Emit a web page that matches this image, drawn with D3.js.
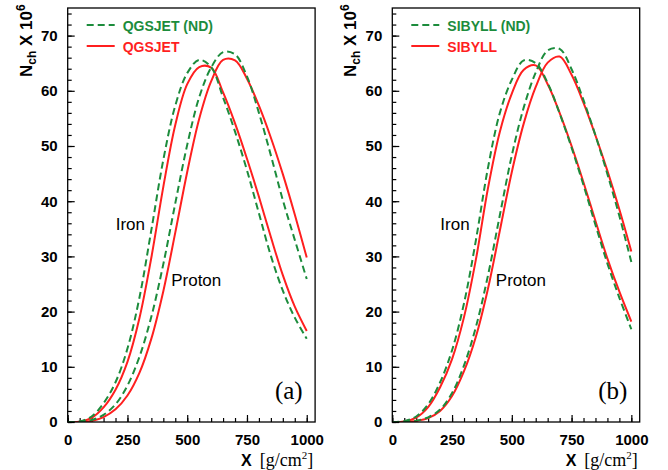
<!DOCTYPE html>
<html>
<head>
<meta charset="utf-8">
<script src="https://cdn.jsdelivr.net/npm/d3@7/dist/d3.min.js"></script>
<style>
  html, body { margin: 0; padding: 0; background: #fff; }
  svg { display: block; }
</style>
</head>
<body>
<svg id="chart" width="668" height="470"></svg>
<script>
// slant depth X [g/cm2] shared by every profile
const depth = [0, 50, 100, 150, 200, 250, 300, 350, 400, 450, 500,
  550, 600, 650, 700, 750, 800, 850, 900, 950, 1000];

// panel (a): QGSJET, values in units of 10^6 charged particles
const ironQGSJET = [0, 0.05, 0.75, 2.65, 5.85, 10.9, 18.8, 29.8, 42.6, 53.8, 61.2,
  64.3, 64.2, 59.7, 54.1, 47.7, 40.8, 33.5, 26.6, 20.9, 16.5];
const ironQGSJETnd = [0, 0.1, 1.0, 3.4, 7.2, 13.3, 22.5, 34.8, 47.5, 57.3, 63.2,
  65.6, 64.3, 58.8, 52.6, 45.6, 37.8, 30.1, 23.8, 18.9, 15.1];
const protonQGSJET = [0, 0.02, 0.2, 0.9, 2.3, 4.8, 8.9, 15.1, 23.7, 34.3, 45.3,
  54.9, 61.7, 65.6, 65.5, 62.2, 57.3, 51.5, 44.9, 37.6, 29.8];
const protonQGSJETnd = [0, 0.05, 0.35, 1.3, 3.2, 6.6, 11.8, 19.1, 28.6, 39.6, 50.2,
  58.8, 64.2, 67.0, 66.6, 62.6, 56.0, 48.3, 40.2, 33.0, 25.9];

// panel (b): SIBYLL
const ironSIBYLL = [0, 0.1, 0.8, 2.7, 6.3, 11.4, 19.0, 29.5, 42.3, 52.6, 59.5,
  63.8, 64.6, 61.2, 56.0, 50.0, 43.4, 36.4, 29.6, 23.6, 18.2];
const ironSIBYLLnd = [0, 0.15, 1.0, 3.2, 7.2, 13.0, 21.5, 33.0, 46.0, 56.0, 62.0,
  65.5, 65.0, 61.4, 55.9, 49.7, 42.9, 35.7, 28.7, 22.5, 16.8];
const protonSIBYLL = [0, 0.02, 0.2, 0.7, 2.0, 4.7, 9.2, 15.5, 24.1, 34.7, 45.3,
  54.1, 60.7, 65.1, 66.2, 62.9, 57.8, 51.9, 45.5, 38.5, 30.9];
const protonSIBYLLnd = [0, 0.03, 0.25, 0.85, 2.25, 5.25, 10.25, 17.25, 26.5, 37.5, 48.3,
  57.0, 63.3, 67.3, 67.6, 63.9, 58.3, 51.9, 44.9, 37.3, 29.0];

const xMajorTicks = [0, 250, 500, 750, 1000];
const yMajorTicks = [0, 10, 20, 30, 40, 50, 60, 70];

const RED = "#ff1f1f";
const GREEN = "#1c8c3c";
const SANS = "'Liberation Sans', Arial, Helvetica, sans-serif";
const SERIF = "'Liberation Serif', 'Times New Roman', serif";

const svg = d3.select("#chart");
const plotTop = 8, plotBottom = 422, plotW = 247.4;

const panels = [
  { left: 67.7, tag: "(a)", model: "QGSJET",
    nd: [ironQGSJETnd, protonQGSJETnd], std: [ironQGSJET, protonQGSJET] },
  { left: 392.3, tag: "(b)", model: "SIBYLL",
    nd: [ironSIBYLLnd, protonSIBYLLnd], std: [ironSIBYLL, protonSIBYLL] }
];

panels.forEach((p, i) => drawPanel(p, i));

function drawPanel(p, i) {
  const x = d3.scaleLinear().domain([0, 1035]).range([p.left, p.left + plotW]);
  const y = d3.scaleLinear().domain([0, 75]).range([plotBottom, plotTop]);
  const g = svg.append("g");

  const clipId = "clip" + i;
  g.append("clipPath").attr("id", clipId)
    .append("rect")
    .attr("x", p.left).attr("y", plotTop)
    .attr("width", plotW).attr("height", plotBottom - plotTop);

  // ticks (inward, no labels on minor)
  const yMinor = d3.range(0, 75, 2);
  const xMinor = d3.range(0, 1001, 50);

  g.append("g").attr("transform", `translate(${p.left},0)`)
    .call(d3.axisLeft(y).tickValues(yMinor).tickSize(-4).tickFormat(""))
    .call((a) => a.select(".domain").remove());
  g.append("g").attr("transform", `translate(${p.left},0)`)
    .call(d3.axisLeft(y).tickValues(yMajorTicks).tickSize(-7).tickPadding(10))
    .call((a) => a.select(".domain").remove())
    .call((a) => a.selectAll("text").attr("font-family", SANS)
      .attr("font-weight", "bold").attr("font-size", 15).attr("fill", "#000"));

  g.append("g").attr("transform", `translate(0,${plotBottom})`)
    .call(d3.axisBottom(x).tickValues(xMinor).tickSize(-4).tickFormat(""))
    .call((a) => a.select(".domain").remove());
  g.append("g").attr("transform", `translate(0,${plotBottom})`)
    .call(d3.axisBottom(x).tickValues(xMajorTicks).tickSize(-7).tickPadding(12)
      .tickFormat(d3.format("d")))
    .call((a) => a.select(".domain").remove())
    .call((a) => a.selectAll("text").attr("font-family", SANS)
      .attr("font-weight", "bold").attr("font-size", 15).attr("fill", "#000"));

  g.selectAll(".tick line").attr("stroke", "#000").attr("stroke-width", 1.2);

  // curves
  const line = d3.line()
    .x((d) => x(d[0]))
    .y((d) => y(d[1]))
    .curve(d3.curveCatmullRom.alpha(0.5));
  const curves = g.append("g").attr("clip-path", `url(#${clipId})`);

  p.std.forEach((vals) => {
    curves.append("path")
      .datum(depth.map((d, k) => [d, vals[k]]))
      .attr("fill", "none").attr("stroke", RED).attr("stroke-width", 2)
      .attr("d", line);
  });
  p.nd.forEach((vals) => {
    curves.append("path")
      .datum(depth.map((d, k) => [d, vals[k]]))
      .attr("fill", "none").attr("stroke", GREEN).attr("stroke-width", 2)
      .attr("stroke-dasharray", "7,4")
      .attr("d", line);
  });

  // frame
  g.append("rect")
    .attr("x", p.left).attr("y", plotTop)
    .attr("width", plotW).attr("height", plotBottom - plotTop)
    .attr("fill", "none").attr("stroke", "#000").attr("stroke-width", 1.3);

  // legend
  const lx = p.left + 19;
  g.append("line").attr("x1", lx).attr("x2", lx + 28).attr("y1", 25).attr("y2", 25)
    .attr("stroke", GREEN).attr("stroke-width", 2).attr("stroke-dasharray", "7,4");
  g.append("text").attr("x", lx + 36).attr("y", 31)
    .attr("font-family", SANS).attr("font-weight", "bold").attr("font-size", 14)
    .attr("fill", GREEN).text(p.model + " (ND)");
  g.append("line").attr("x1", lx).attr("x2", lx + 28).attr("y1", 46).attr("y2", 46)
    .attr("stroke", RED).attr("stroke-width", 2);
  g.append("text").attr("x", lx + 36).attr("y", 52)
    .attr("font-family", SANS).attr("font-weight", "bold").attr("font-size", 14)
    .attr("fill", RED).text(p.model);

  // primaries
  g.append("text").attr("x", p.left + 48).attr("y", 230)
    .attr("font-family", SANS).attr("font-size", 17).text("Iron");
  g.append("text").attr("x", p.left + 103.5).attr("y", 286)
    .attr("font-family", SANS).attr("font-size", 17).text("Proton");

  // panel tag
  g.append("text").attr("x", p.left + 235).attr("y", 399)
    .attr("text-anchor", "end")
    .attr("font-family", SERIF).attr("font-size", 25).text(p.tag);

  // y title
  const yt = g.append("text")
    .attr("transform", `translate(${p.left - 36},77) rotate(-90)`)
    .attr("font-family", SANS).attr("font-weight", "bold").attr("font-size", 17);
  yt.append("tspan").text("N");
  yt.append("tspan").attr("font-size", 12).attr("dy", 4).text("ch");
  yt.append("tspan").attr("dy", -4).text(" X 10");
  yt.append("tspan").attr("font-size", 12).attr("dy", -7).text("6");

  // x title
  const xt = g.append("text")
    .attr("x", p.left + 245.5).attr("y", 466)
    .attr("text-anchor", "end")
    .attr("font-weight", "bold").attr("font-size", 16).attr("font-family", SANS);
  xt.append("tspan").text("X");
  xt.append("tspan").attr("dx", 8).attr("font-family", SERIF).attr("font-weight", "normal")
    .attr("font-size", 18).text("[g/cm");
  xt.append("tspan").attr("font-family", SERIF).attr("font-weight", "normal")
    .attr("font-size", 11).attr("dy", -7).text("2");
  xt.append("tspan").attr("font-family", SERIF).attr("font-weight", "normal")
    .attr("font-size", 18).attr("dy", 7).text("]");
}
</script>
</body>
</html>
